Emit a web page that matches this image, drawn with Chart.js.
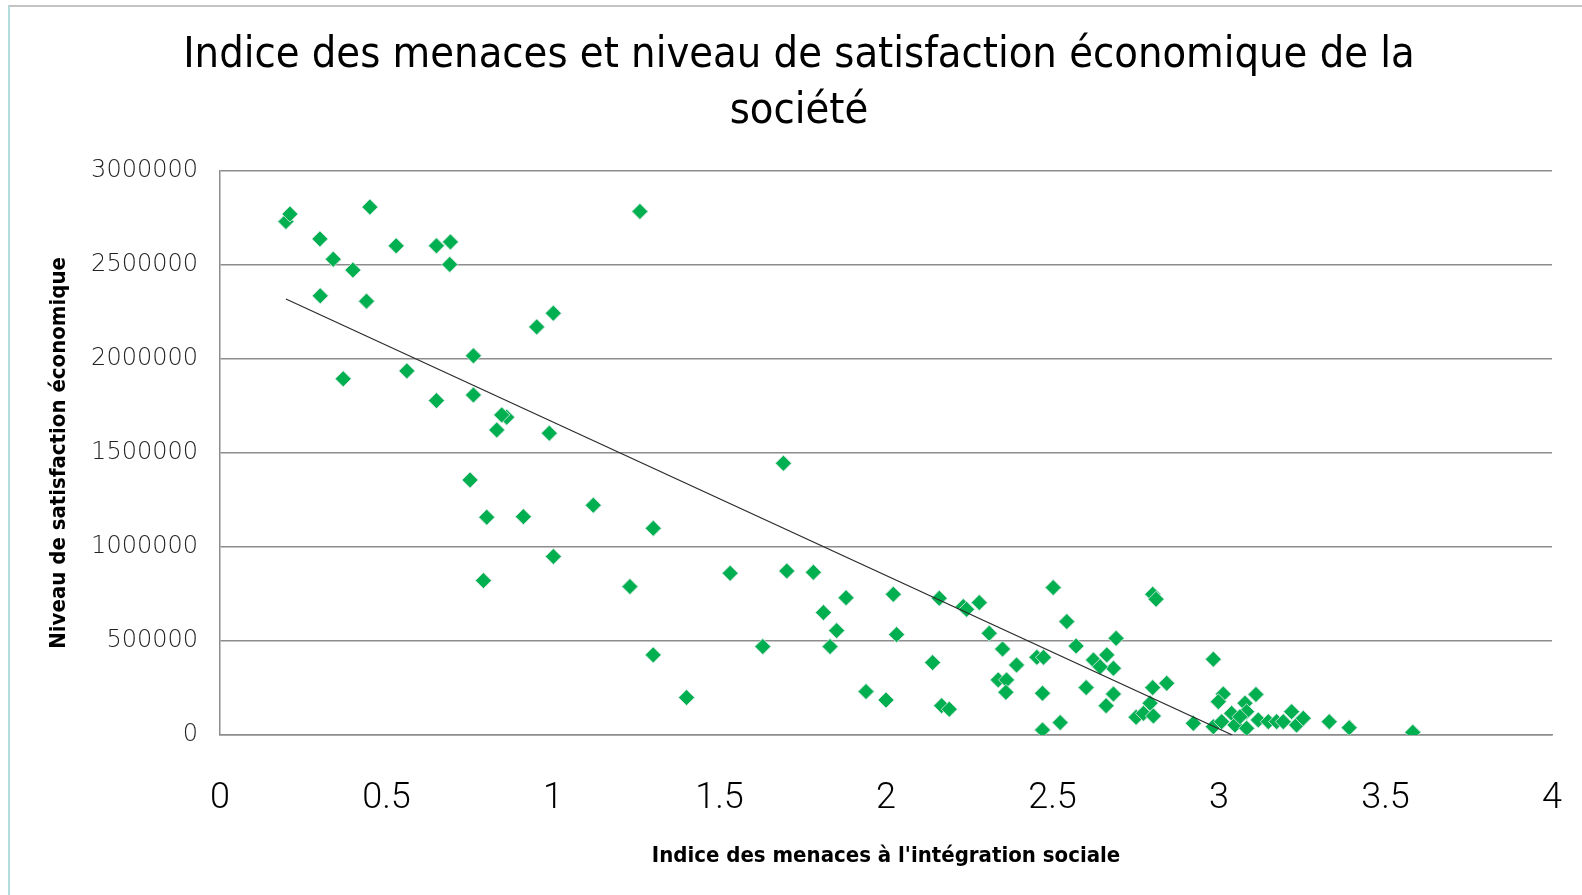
<!DOCTYPE html>
<html lang="fr">
<head>
<meta charset="utf-8">
<title>Indice des menaces et niveau de satisfaction économique de la société</title>
<script src="https://cdn.jsdelivr.net/npm/chart.js@4/dist/chart.umd.min.js"></script>
<style>
    html, body { margin: 0; padding: 0; background: #fff; }
    #wrap { position: relative; width: 1582px; height: 895px; }
    #frame {
        position: absolute; left: 8px; top: 5px; right: 0; bottom: 0;
        border-top: 2px solid #c4c4c4;
        border-left: 2px solid #b3dcdc;
        pointer-events: none;
    }
    canvas { position: absolute; left: 0; top: 0; }
</style>
</head>
<body>
<div id="wrap">
    <canvas id="menacesChart" width="1582" height="895"></canvas>
    <div id="frame"></div>
</div>
<script>
// values
var threatIndex = [
    0.198, 0.210, 0.450, 0.300, 0.340, 0.399, 0.529, 0.650, 0.692, 0.690,
    0.301, 0.440, 1.001, 0.951, 0.761, 0.370, 0.561, 0.650, 0.761, 0.861,
    0.846, 0.831, 0.989, 0.751, 0.801, 0.911, 1.121, 1.001, 0.791, 1.261,
    1.692, 1.301, 1.231, 1.532, 1.702, 1.782, 1.880, 1.812, 1.852, 1.832,
    2.022, 2.032, 2.160, 2.232, 2.242, 2.280, 2.310, 2.350, 2.392, 2.337,
    2.362, 2.360, 2.140, 1.301, 1.630, 1.401, 1.940, 2.000, 2.167, 2.190,
    2.502, 2.801, 2.811, 2.543, 2.571, 2.691, 2.453, 2.473, 2.623, 2.663,
    2.683, 2.643, 2.470, 2.601, 2.683, 2.661, 2.470, 2.523, 2.801, 2.843,
    2.793, 2.751, 2.773, 2.803, 2.923, 2.983, 3.013, 2.998, 2.983, 3.008,
    3.038, 3.048, 3.078, 3.083, 3.063, 3.083, 3.111, 3.118, 3.148, 3.173,
    3.193, 3.218, 3.233, 3.253, 3.331, 3.391, 3.582
];
var satisfaction = [
    2730000, 2770000, 2807000, 2638000, 2530000, 2472000, 2601000, 2601000, 2622000, 2502000,
    2335000, 2307000, 2243000, 2170000, 2016000, 1894000, 1936000, 1778000, 1808000, 1690000,
    1702000, 1622000, 1605000, 1356000, 1158000, 1161000, 1222000, 949000, 821000, 2784000,
    1445000, 1099000, 789000, 860000, 872000, 865000, 730000, 651000, 555000, 470000,
    748000, 534000, 727000, 683000, 668000, 704000, 541000, 457000, 372000, 293000,
    293000, 227000, 385000, 426000, 470000, 199000, 231000, 186000, 156000, 137000,
    784000, 748000, 722000, 603000, 473000, 514000, 413000, 413000, 399000, 426000,
    355000, 363000, 222000, 252000, 218000, 156000, 27000, 66000, 252000, 275000,
    169000, 94000, 115000, 101000, 62000, 403000, 218000, 177000, 44000, 71000,
    115000, 53000, 169000, 124000, 97000, 36000, 216000, 80000, 71000, 71000,
    71000, 124000, 53000, 89000, 71000, 39000, 14000
];
// linear trend line, as drawn (ends where it meets the x axis)
var trendX = [0.198, 3.04];
var trendY = [2318000, 0];

var xTicks = { min: 0, max: 4, step: 0.5 };
var yTicks = { min: 0, max: 3000000, step: 500000 };

var titleFont = "'Liberation Sans Narrow', 'DejaVu Sans Condensed', 'Liberation Sans', sans-serif";
var thinFont = "'DejaVu Sans ExtraLight', 'DejaVu Sans', sans-serif";

function initMenacesChart() {
    var canvas = document.getElementById('menacesChart');
    if (!canvas) return;

    if (typeof Chart === 'undefined') {
        console.error('Chart.js library is not loaded.');
        return;
    }

    var points = threatIndex.map(function(x, i) {
        return { x: x, y: satisfaction[i] };
    });
    var trend = trendX.map(function(x, i) {
        return { x: x, y: trendY[i] };
    });

    new Chart(canvas.getContext('2d'), {
        type: 'scatter',
        data: {
            datasets: [{
                type: 'line',
                label: 'Tendance',
                data: trend,
                borderColor: '#2b2b2b',
                borderWidth: 1.2,
                pointRadius: 0,
                fill: false,
                order: 0
            }, {
                label: 'Sociétés',
                data: points,
                pointStyle: 'rectRot',
                pointRadius: 8,
                pointHoverRadius: 8,
                backgroundColor: '#00b050',
                borderColor: 'rgba(205, 230, 220, 0.9)',
                borderWidth: 1,
                order: 1
            }]
        },
        options: {
            responsive: false,
            animation: false,
            layout: { padding: { left: 46, right: 30, top: 0, bottom: 0 } },
            plugins: {
                legend: { display: false },
                tooltip: { enabled: false },
                title: {
                    display: true,
                    text: ['Indice des menaces et niveau de satisfaction économique de la', 'société'],
                    color: '#000',
                    font: { family: titleFont, size: 43, weight: 'normal', lineHeight: 1.3 },
                    padding: { top: 28, bottom: 31 }
                }
            },
            scales: {
                x: {
                    type: 'linear',
                    min: xTicks.min,
                    max: xTicks.max,
                    afterFit: function(scale) { scale.height = 160; },
                    ticks: {
                        stepSize: xTicks.step,
                        color: '#000',
                        padding: 0,
                        font: { family: "Roboto, 'Open Sans', sans-serif", size: 36, weight: 300, lineHeight: 3.55 },
                        maxRotation: 0,
                        callback: function(value) { return String(value); }
                    },
                    grid: { display: false, drawTicks: false },
                    border: { display: true, color: '#8c8c8c', width: 1.5 },
                    title: {
                        display: true,
                        text: "Indice des menaces à l'intégration sociale",
                        color: '#000',
                        font: { family: titleFont, size: 22, weight: 'bold', lineHeight: 1.2 },
                        padding: { top: 0, bottom: 26 }
                    }
                },
                y: {
                    type: 'linear',
                    min: yTicks.min,
                    max: yTicks.max,
                    afterFit: function(scale) { scale.width = 174; },
                    ticks: {
                        stepSize: yTicks.step,
                        color: '#222',
                        padding: 22,
                        font: { family: thinFont, size: 24, weight: 200 },
                        callback: function(value) { return String(value); }
                    },
                    grid: { color: '#8c8c8c', lineWidth: 1.5, drawTicks: false },
                    border: { display: true, color: '#8c8c8c', width: 1.5 },
                    title: {
                        display: true,
                        text: 'Niveau de satisfaction économique',
                        color: '#000',
                        font: { family: titleFont, size: 22, weight: 'bold', lineHeight: 1.2 },
                        padding: { top: 0, bottom: 0 }
                    }
                }
            }
        }
    });
}

initMenacesChart();
</script>
</body>
</html>
